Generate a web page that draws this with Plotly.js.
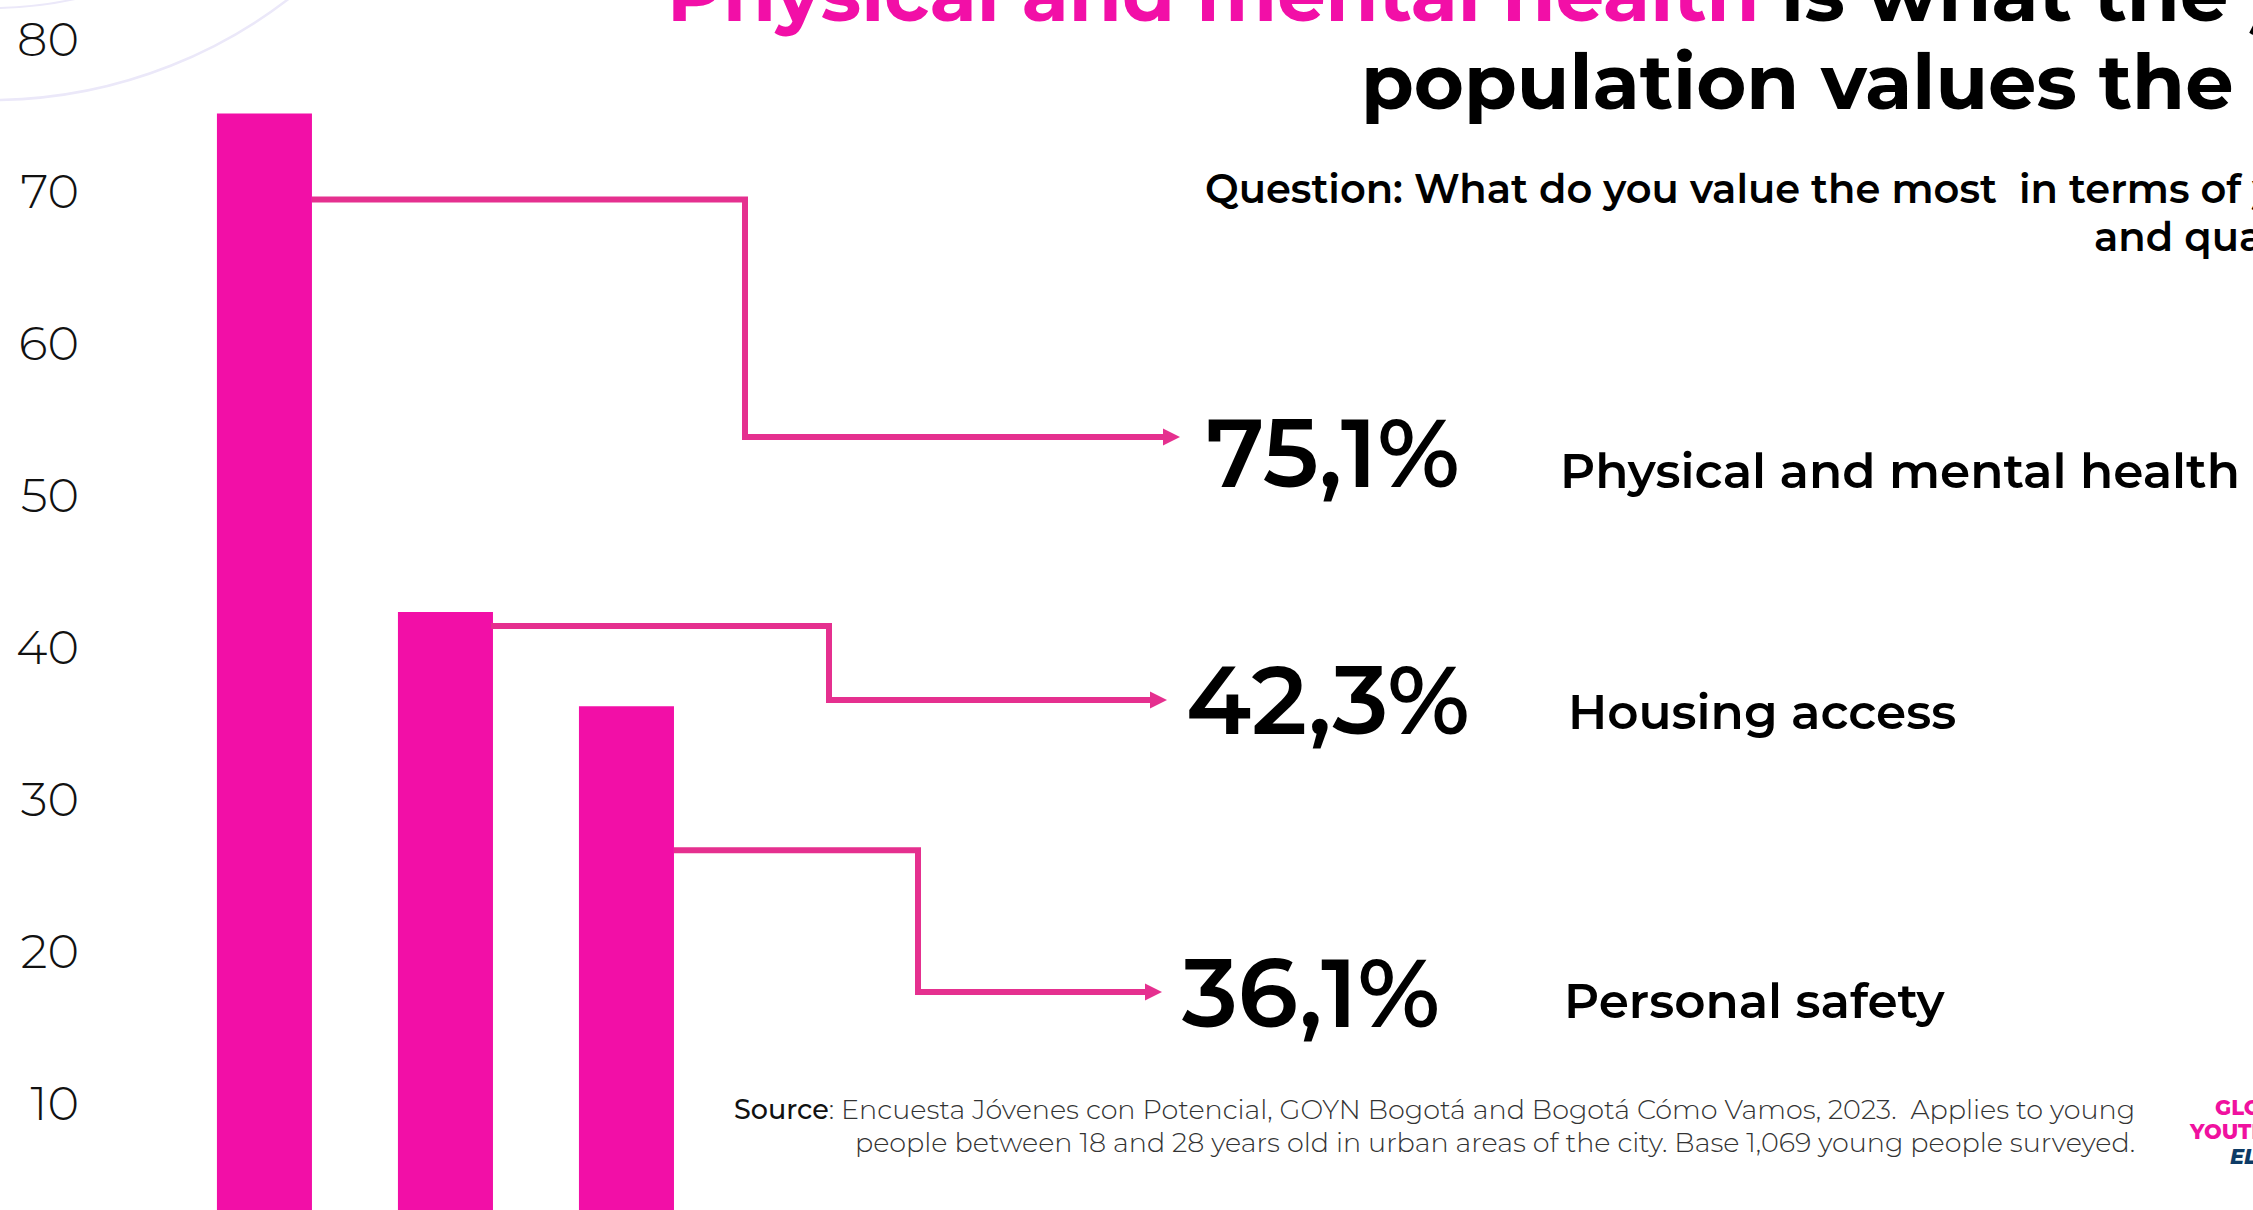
<!DOCTYPE html>
<html>
<head>
<meta charset="utf-8">
<script src="https://cdn.plot.ly/plotly-3.0.1.min.js"></script>
<style>html,body{margin:0;padding:0;background:#fff;}#chart{width:2253px;height:1210px;}</style>
</head>
<body>
<div id="chart"></div>
<script>
// ---- data ----
const categories = ['Physical and mental health', 'Housing access', 'Personal safety'];
const values = [75.1, 42.3, 36.1];
const tickVals = [10, 20, 30, 40, 50, 60, 70, 80];
const tickText = ['10', '20', '30', '40', '50', '60', '70', '80'];
const titleHighlight = 'Physical and mental health';
const titleRest = ' is what the young';
const titleLine2 = 'population values the most';
const questionLine1 = 'Question: What do you value the most  in terms of your well-being';
const questionLine2 = 'and quality of life?';
const sourceLine1 = ': Encuesta Jóvenes con Potencial, GOYN Bogotá and Bogotá Cómo Vamos, 2023.  Applies to young';
const sourceLine2 = 'people between 18 and 28 years old in urban areas of the city. Base 1,069 young people surveyed.';

// ---- layout helpers (pixel -> paper) ----
const FW = 2253, FH = 1210, L = 80;
const W = FW - L;
const px = x => (x - L) / W;
const py = y => 1 - y / FH;
const FONT = 'Montserrat, Inter, sans-serif';
const PINK = '#f20fa7';
const LINE = '#e5308f';
const Y_RANGE = [2.96, 82.57];
// pixel row of a y value inside the plot area (plot area spans full height)
const yPix = v => FH * (Y_RANGE[1] - v) / (Y_RANGE[1] - Y_RANGE[0]);

const fmt = v => v.toFixed(1).replace('.', ',') + '%';

// connector geometry (pixels) per bar; start is offset below each bar top
const conn = [
  {x0: 312, drop: 86, xc: 745, y1: 437, tip: 1180},
  {x0: 491, drop: 14, xc: 829, y1: 700, tip: 1167},
  {x0: 674, drop: 144, xc: 918, y1: 992, tip: 1162}
];
const valuePos = [{x: 1204, y: 452}, {x: 1184, y: 699}, {x: 1180, y: 992}];
const labelPos = [{x: 1558, y: 470}, {x: 1566, y: 711}, {x: 1562, y: 1000}];

const shapes = [];
// decorative arcs
[[488, 2.5], [396, 2]].forEach(([r, w]) => {
  const cx = -9, cy = -388;
  shapes.push({type: 'circle', xref: 'paper', yref: 'paper', layer: 'below',
    x0: px(cx - r), x1: px(cx + r), y0: py(cy + r), y1: py(cy - r),
    line: {color: '#ebe8f9', width: w}});
});
conn.forEach((c, i) => {
  const ah = 17, aw = 8.5;
  const y0 = yPix(values[i]) + c.drop;
  shapes.push({type: 'path', xref: 'paper', yref: 'paper',
    path: `M ${px(c.x0)},${py(y0)} L ${px(c.xc)},${py(y0)} L ${px(c.xc)},${py(c.y1)} L ${px(c.tip - ah + 1)},${py(c.y1)}`,
    line: {color: LINE, width: 6}});
  shapes.push({type: 'path', xref: 'paper', yref: 'paper',
    path: `M ${px(c.tip)},${py(c.y1)} L ${px(c.tip - ah)},${py(c.y1 - aw)} L ${px(c.tip - ah)},${py(c.y1 + aw)} Z`,
    fillcolor: LINE, line: {color: LINE, width: 0}});
});

const ann = [];
function txt(text, x, y, size, weight, color, xanchor) {
  ann.push({text: text, xref: 'paper', yref: 'paper', x: px(x), y: py(y),
    xanchor: xanchor || 'left', yanchor: 'middle', showarrow: false,
    font: {family: FONT, size: size, weight: weight, color: color || '#000'}});
}
// title
txt(`<span style="color:${PINK}">${titleHighlight}</span>${titleRest}`, 665, -6, 76.6, 700, '#000');
txt(titleLine2, 1359, 82, 76.6, 700, '#000');
// question
txt(questionLine1, 1203, 189, 40, 600, '#000');
txt(questionLine2, 2092, 237, 40, 600, '#000');
// values and labels
values.forEach((v, i) => {
  txt(fmt(v), valuePos[i].x, valuePos[i].y, 96, 600, '#000');
  txt(categories[i], labelPos[i].x, labelPos[i].y, 48.5, 600, '#000');
});
// source
txt(`<span style="font-weight:500;color:#111">Source</span>${sourceLine1}`, 2137, 1109, 27, 300, '#333', 'right');
txt(sourceLine2, 2137, 1142, 27, 300, '#333', 'right');
// logo (clipped at right)
txt('GLOBAL OPPORTUNITY', 2213, 1107, 21, 800, '#f0119f');
txt('YOUTH NETWORK', 2187, 1131, 21, 800, '#f0119f');
txt('<i>ELEVATE</i>', 2228, 1156, 21, 800, '#0d3b66');

const trace = {
  type: 'bar', x: categories, y: values, width: 0.525,
  marker: {color: PINK, line: {width: 0}}, hoverinfo: 'skip'
};

const layout = {
  width: FW, height: FH,
  margin: {l: L, r: 0, t: 0, b: 0, pad: 0},
  paper_bgcolor: '#fff', plot_bgcolor: 'rgba(0,0,0,0)',
  showlegend: false,
  xaxis: {type: 'category', range: [-1.019, 10.986], showticklabels: false,
    showgrid: false, zeroline: false, showline: false, ticks: '', fixedrange: true},
  yaxis: {range: Y_RANGE, tickvals: tickVals, ticktext: tickText,
    tickfont: {family: FONT, size: 48, weight: 300, color: '#111'},
    showgrid: false, zeroline: false, showline: false, ticks: '', fixedrange: true},
  shapes: shapes,
  annotations: ann
};

Plotly.newPlot('chart', [trace], layout, {displayModeBar: false, staticPlot: true});
</script>
</body>
</html>
